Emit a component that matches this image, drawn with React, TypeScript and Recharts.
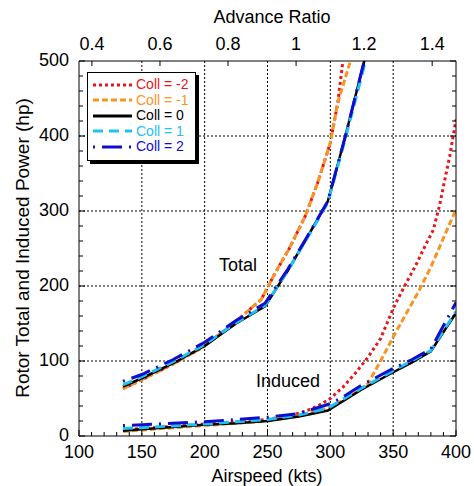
import React from "react";
import { LineChart, Line, XAxis, YAxis, CartesianGrid } from "recharts";

const FONT = "Liberation Sans, Arial, sans-serif";

// airspeed (kts) / power (hp)
const totalM2V = [135, 150, 175, 200, 225, 245, 256, 267, 280, 290, 300, 306, 310];
const totalM2P = [63, 75, 96, 120, 153, 182, 217, 249, 293, 338, 391, 445, 500];
const totalM1V = [135, 150, 175, 200, 225, 245, 256, 267, 280, 290, 300, 306, 316];
const totalM1P = [63, 75, 96, 120, 153, 182, 217, 249, 293, 338, 391, 445, 500];
const total0V = [135, 150, 175, 200, 225, 248, 266, 282, 298, 312, 327];
const total0P = [66, 77, 97, 120, 150, 173, 220, 266, 313, 400, 500];
const total1V = [135, 150, 175, 200, 225, 248, 266, 282, 298, 312, 328];
const total1P = [68, 79, 99, 122, 151, 174, 220, 265, 311, 397, 500];
const total2V = [135, 150, 175, 200, 225, 248, 266, 282, 298, 312, 327];
const total2P = [73, 82, 102, 125, 154, 177, 222, 267, 313, 400, 500];

const indM2V = [135, 150, 200, 250, 270, 280, 290, 300, 310, 320, 330, 340, 350, 356, 362, 369, 375, 382, 387, 391, 395, 400];
const indM2P = [8, 10, 16, 22, 28, 33, 40, 50, 65, 84, 105, 130, 170, 190, 209, 231, 252, 275, 308, 341, 373, 422];
const indM1V = [135, 150, 200, 250, 275, 298, 315, 330, 340, 350, 360, 370, 380, 390, 400];
const indM1P = [6, 8, 14, 20, 27, 37, 52, 70, 100, 132, 162, 192, 225, 264, 302];
const ind0V = [135, 150, 175, 200, 225, 250, 275, 298, 325, 350, 365, 380, 400];
const ind0P = [7, 9, 12, 15, 17, 20, 26, 34, 62, 85, 98, 113, 164];
const ind1V = [135, 150, 200, 250, 275, 298, 325, 350, 380, 400];
const ind1P = [10, 11, 16, 22, 28, 37, 64, 87, 114, 166];
const ind2V = [135, 150, 200, 250, 275, 298, 308, 325, 350, 365, 380, 400];
const ind2P = [14, 15, 19, 25, 30, 42, 50, 68, 90, 102, 116, 178];

const speedTicks = [100, 110, 120, 130, 140, 150, 160, 170, 180, 190, 200, 210, 220, 230, 240, 250, 260, 270, 280, 290, 300, 310, 320, 330, 340, 350, 360, 370, 380, 390, 400];
const powerTicks = [0, 20, 40, 60, 80, 100, 120, 140, 160, 180, 200, 220, 240, 260, 280, 300, 320, 340, 360, 380, 400, 420, 440, 460, 480, 500];
const ratioTicks = [0.4, 0.6, 0.8, 1, 1.2, 1.4];
const gridSpeeds = [150, 200, 250, 300, 350];
const gridPowers = [100, 200, 300, 400];

const zip = (v: number[], p: number[]) => v.map((x, i) => ({ v: x, p: p[i] }));

const series = [
  { name: "Coll = -2", color: "#e8161b", dash: "3 3", width: 3, total: zip(totalM2V, totalM2P), induced: zip(indM2V, indM2P) },
  { name: "Coll = -1", color: "#f89422", dash: "6 3", width: 3, total: zip(totalM1V, totalM1P), induced: zip(indM1V, indM1P) },
  { name: "Coll = 0", color: "#000000", dash: undefined, width: 2.5, total: zip(total0V, total0P), induced: zip(ind0V, ind0P) },
  { name: "Coll = 1", color: "#1cc2f2", dash: "10 6", width: 3, total: zip(total1V, total1P), induced: zip(ind1V, ind1P) },
  { name: "Coll = 2", color: "#0e0ed2", dash: "2 7 20 7", width: 3, total: zip(total2V, total2P), induced: zip(ind2V, ind2P) },
];

// helper so the top/right axes have an item bound to them
const ratioAnchor = ratioTicks.map((mu) => ({ mu, p: 0 }));

const BottomTick = (props: any) => {
  const { x, y, payload } = props;
  const major = payload.value % 50 === 0;
  return (
    <g>
      <line x1={x} x2={x} y1={y} y2={y - (major ? 6 : 4)} stroke="#000" />
      {major && (
        <text x={x} y={y + 22} textAnchor="middle" fontSize={18} fontFamily={FONT} fill="#000">
          {payload.value}
        </text>
      )}
    </g>
  );
};

const TopTick = (props: any) => {
  const { x, y, payload } = props;
  return (
    <g>
      <line x1={x} x2={x} y1={y} y2={y + 5} stroke="#000" />
      <text x={x} y={y - 11} textAnchor="middle" fontSize={18} fontFamily={FONT} fill="#000">
        {String(Math.round(payload.value * 10) / 10)}
      </text>
    </g>
  );
};

const LeftTick = (props: any) => {
  const { x, y, payload } = props;
  const major = payload.value % 100 === 0;
  return (
    <g>
      <line x1={x} x2={x + (major ? 6 : 4)} y1={y} y2={y} stroke="#000" />
      {major && (
        <text x={x - 10} y={y + 5} textAnchor="end" fontSize={18} fontFamily={FONT} fill="#000">
          {payload.value}
        </text>
      )}
    </g>
  );
};

const RightTick = (props: any) => {
  const { x, y, payload } = props;
  const major = payload.value % 100 === 0;
  return <line x1={x} x2={x - (major ? 6 : 4)} y1={y} y2={y} stroke="#000" />;
};

const LegendBox = () => (
  <div
    style={{
      position: "absolute",
      left: 87,
      top: 72,
      background: "#fff",
      border: "1.5px solid #000",
      boxShadow: "3px 3px 0 #000",
      width: 107,
      padding: "4px 0 5px 0",
      fontFamily: FONT,
      fontSize: 14,
    }}
  >
    {series.map((s) => (
      <div key={s.name} style={{ display: "flex", alignItems: "center", height: 15.5 }}>
        <svg width={42} height={6} style={{ marginLeft: 4 }}>
          <line x1={1} x2={40} y1={3} y2={3} stroke={s.color} strokeWidth={3} strokeDasharray={s.dash} />
        </svg>
        <span style={{ color: s.color, marginLeft: 2, lineHeight: "15px" }}>{s.name}</span>
      </div>
    ))}
  </div>
);

export default function App() {
  return (
    <div style={{ position: "absolute", left: 0, top: 0, width: 474, height: 486, background: "#fff" }}>
      <LineChart width={474} height={486} margin={{ top: 0, right: 0, bottom: 0, left: 0 }}>
        <CartesianGrid
          xAxisId="bottom"
          yAxisId="left"
          stroke="#000"
          strokeDasharray="2 2"
          verticalValues={gridSpeeds}
          horizontalValues={gridPowers}
        />
        <XAxis
          xAxisId="bottom"
          dataKey="v"
          type="number"
          domain={[100, 400]}
          ticks={speedTicks}
          interval={0}
          height={50}
          tickSize={0}
          tickMargin={0}
          tickLine={false}
          axisLine={{ stroke: "#000" }}
          tick={<BottomTick />}
          allowDataOverflow
        />
        <XAxis
          xAxisId="top"
          dataKey="mu"
          orientation="top"
          type="number"
          domain={[0.362, 1.47]}
          ticks={ratioTicks}
          interval={0}
          height={61}
          tickSize={0}
          tickMargin={0}
          tickLine={false}
          axisLine={{ stroke: "#000" }}
          tick={<TopTick />}
          allowDataOverflow
        />
        <YAxis
          yAxisId="left"
          type="number"
          domain={[0, 500]}
          ticks={powerTicks}
          interval={0}
          width={79}
          tickSize={0}
          tickMargin={0}
          tickLine={false}
          axisLine={{ stroke: "#000" }}
          tick={<LeftTick />}
          allowDataOverflow
        />
        <YAxis
          yAxisId="right"
          orientation="right"
          type="number"
          domain={[0, 500]}
          ticks={powerTicks}
          interval={0}
          width={18}
          tickSize={0}
          tickMargin={0}
          tickLine={false}
          axisLine={{ stroke: "#000" }}
          tick={<RightTick />}
          allowDataOverflow
        />
        <Line
          xAxisId="top"
          yAxisId="right"
          data={ratioAnchor}
          dataKey="p"
          stroke="none"
          dot={false}
          activeDot={false}
          legendType="none"
          isAnimationActive={false}
        />
        {series.map((s) => (
          <Line
            key={s.name + "-total"}
            xAxisId="bottom"
            yAxisId="left"
            data={s.total}
            dataKey="p"
            name={s.name}
            stroke={s.color}
            strokeWidth={s.width}
            strokeDasharray={s.dash}
            dot={false}
            activeDot={false}
            isAnimationActive={false}
          />
        ))}
        {series.map((s) => (
          <Line
            key={s.name + "-induced"}
            xAxisId="bottom"
            yAxisId="left"
            data={s.induced}
            dataKey="p"
            name={s.name}
            legendType="none"
            stroke={s.color}
            strokeWidth={s.width}
            strokeDasharray={s.dash}
            dot={false}
            activeDot={false}
            isAnimationActive={false}
          />
        ))}
      </LineChart>
      <LegendBox />
      <svg width={474} height={486} style={{ position: "absolute", left: 0, top: 0, pointerEvents: "none" }}>
        <text x={272} y={23} textAnchor="middle" fontSize={18} fontFamily={FONT} fill="#000">
          Advance Ratio
        </text>
        <text x={267} y={482} textAnchor="middle" fontSize={18} fontFamily={FONT} fill="#000">
          Airspeed (kts)
        </text>
        <text x={29} y={248} textAnchor="middle" fontSize={19} fontFamily={FONT} fill="#000" transform="rotate(-90 29 248)">
          Rotor Total and Induced Power (hp)
        </text>
        <text x={238} y={271} textAnchor="middle" fontSize={18} fontFamily={FONT} fill="#000">
          Total
        </text>
        <text x={288} y={387} textAnchor="middle" fontSize={18} fontFamily={FONT} fill="#000">
          Induced
        </text>
      </svg>
    </div>
  );
}
